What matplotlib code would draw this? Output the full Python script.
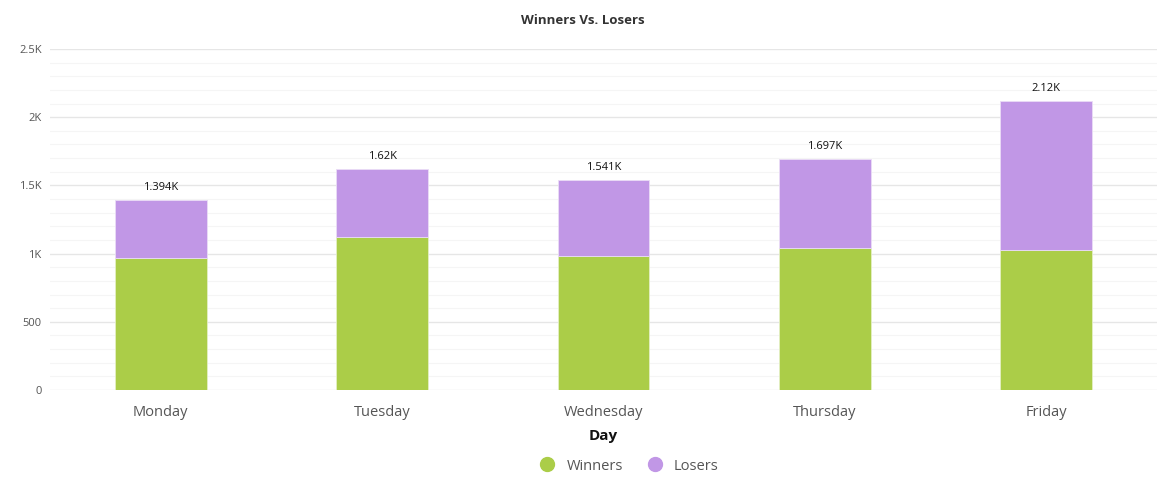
import numpy as np
import matplotlib.pyplot as plt
from matplotlib.lines import Line2D
from matplotlib.ticker import MultipleLocator, FuncFormatter

plt.rcParams['font.family'] = ['Open Sans', 'DejaVu Sans']

# Data
days = ['Monday', 'Tuesday', 'Wednesday', 'Thursday', 'Friday']
winners = [965, 1120, 986, 1040, 1030]
totals = [1394, 1620, 1541, 1697, 2120]
losers = [t - w for t, w in zip(totals, winners)]
total_labels = ['1.394K', '1.62K', '1.541K', '1.697K', '2.12K']

green = '#abcd48'
purple = '#c197e6'

fig = plt.figure(figsize=(11.65, 4.88), dpi=100)
ax = fig.add_axes([50 / 1165, 1 - 390 / 488, 1107 / 1165, 341 / 488])

x = np.arange(len(days))
ax.bar(x, winners, width=0.415, color=green, edgecolor='#e4efc4', linewidth=0.6, zorder=3)
ax.bar(x, losers, width=0.415, bottom=winners, color=purple, edgecolor='#eadcf6',
       linewidth=0.6, zorder=3)

for xi, t, lab in zip(x, totals, total_labels):
    ax.text(xi, t + 50, lab, ha='center', va='bottom', fontsize=8, color='#111111')

ax.set_xlim(-0.5, len(days) - 0.5)
ax.set_ylim(0, 2500)
ax.yaxis.set_major_locator(MultipleLocator(500))
ax.yaxis.set_minor_locator(MultipleLocator(100))
ax.yaxis.set_major_formatter(FuncFormatter(
    lambda v, p: '0' if v == 0 else (f'{v/1000:g}K' if v >= 1000 else f'{v:g}')))
ax.grid(axis='y', which='major', color='#e6e6e6', linewidth=1.0, zorder=0)
ax.grid(axis='y', which='minor', color='#f5f5f5', linewidth=0.8, zorder=0)
ax.tick_params(axis='y', which='both', length=0, labelsize=8, labelcolor='#555555', pad=6)
ax.set_xticks(x)
ax.set_xticklabels(days)
ax.tick_params(axis='x', length=0, labelsize=10.5, labelcolor='#555555', pad=11)
for s in ax.spines.values():
    s.set_visible(False)

ax.set_xlabel('Day', fontsize=11, fontweight='bold', color='#111111', labelpad=6)
fig.text(0.5, 1 - 20 / 488, 'Winners Vs. Losers', ha='center', va='center',
         fontsize=9.5, fontweight='bold', color='#333333')

handles = [Line2D([], [], marker='o', linestyle='', markersize=10, color=green),
           Line2D([], [], marker='o', linestyle='', markersize=10, color=purple)]
fig.legend(handles, ['Winners', 'Losers'], loc='center', bbox_to_anchor=(0.537, 1 - 466 / 488),
           ncol=2, frameon=False, fontsize=10.5, labelcolor='#555555',
           handletextpad=0.3, columnspacing=1.2)

fig.savefig('out.png', dpi=100)
